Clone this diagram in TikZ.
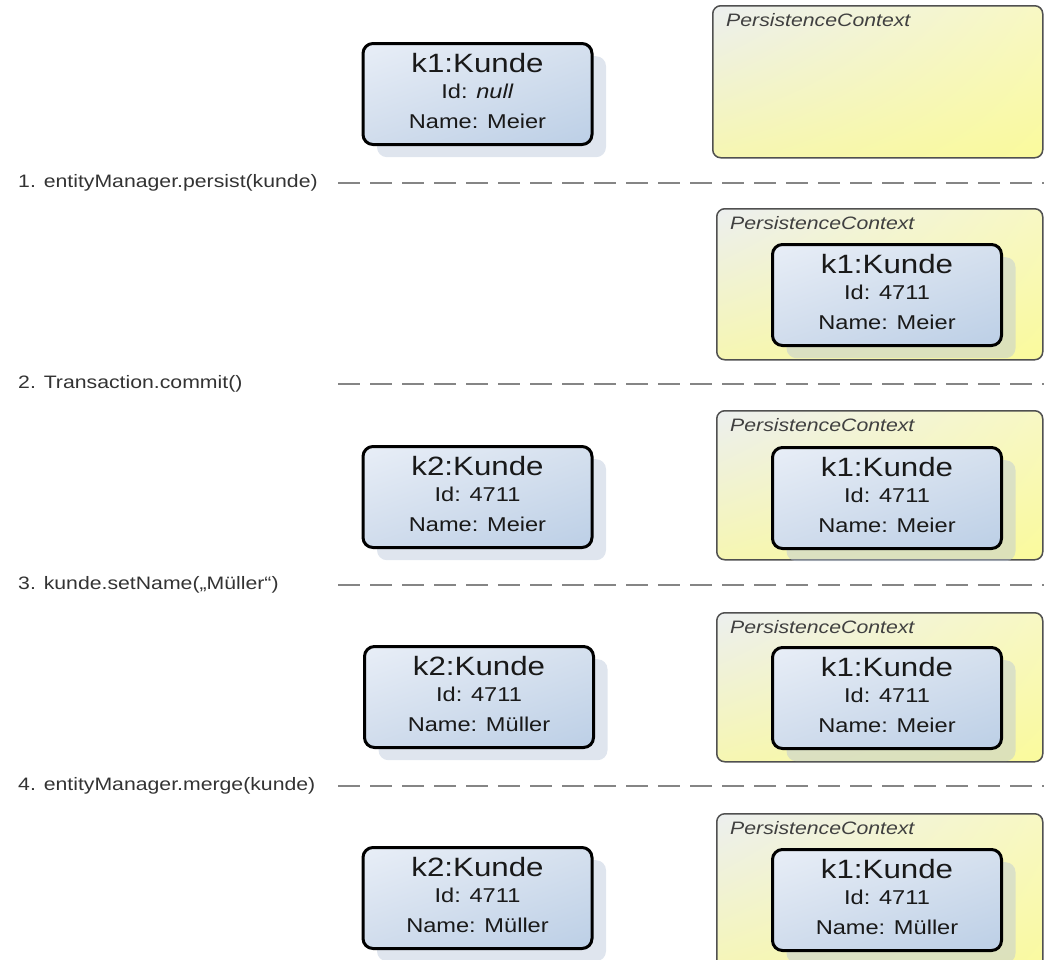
\documentclass[tikz,border=0pt]{standalone}
\usepackage{fontspec}
\setmainfont{Liberation Sans}[FakeStretch=1.18]
\usetikzlibrary{calc,shadings}
\definecolor{boxUL}{HTML}{E8EEF7}
\definecolor{boxUR}{HTML}{D5E0EE}
\definecolor{boxLL}{HTML}{D0DCEC}
\definecolor{boxLR}{HTML}{BCCFE6}
\definecolor{ctxUL}{HTML}{ECEFEF}
\definecolor{ctxUR}{HTML}{F8F8C4}
\definecolor{ctxLL}{HTML}{F6F6B2}
\definecolor{ctxLR}{HTML}{FAFA9C}
\definecolor{shadowc}{HTML}{B9C5D9}
\definecolor{ctxborder}{HTML}{505050}
\definecolor{labelc}{HTML}{333333}
\definecolor{ctxtext}{HTML}{404040}
\definecolor{dashc}{HTML}{858585}
\tikzset{
  kbox/.style={draw=black, line width=3pt, rounded corners=10pt, inner sep=0pt,
    upper left=boxUL, upper right=boxUR, lower left=boxLL, lower right=boxLR,
    minimum width=229pt, minimum height=101pt},
  kshadow/.style={fill=shadowc, fill opacity=0.45, rounded corners=10pt, inner sep=0pt,
    minimum width=229pt, minimum height=101pt},
  ktitle/.style={font=\fontsize{26.5}{30}\selectfont, text=black!90, inner sep=0pt},
  kattr/.style={font=\fontsize{20}{23}\selectfont, text=black!90, inner sep=0pt},
  ctx/.style={draw=ctxborder, line width=1.5pt, rounded corners=8pt, inner sep=0pt,
    upper left=ctxUL, upper right=ctxUR, lower left=ctxLL, lower right=ctxLR},
  ctxlabel/.style={font=\fontsize{18}{22}\selectfont\itshape, text=ctxtext, inner sep=0pt},
  steplabel/.style={font=\fontsize{18}{22}\selectfont, text=labelc, inner sep=0pt, anchor=west},
  dashline/.style={draw=dashc, line width=2pt, dash pattern=on 22pt off 10pt},
}
% #1 name, #2 centre x, #3 top, #4 title, #5 id, #6 name value
\newcommand\kundebox[6]{%
  \node[kshadow, anchor=north] (#1s) at (#2+14,#3+14) {};
  \node[kbox, anchor=north] (#1) at (#2,#3) {};
  \node[ktitle, anchor=base] (#1t) at ($(#1.north)+(0,30)$) {#4};
  \node[kattr, anchor=base] (#1i) at ($(#1.north)+(0,56)$) {Id: #5};
  \node[kattr, anchor=base] (#1n) at ($(#1.north)+(0,86)$) {Name: #6};
}
% #1 name, #2 left, #3 top, #4 bottom
\newcommand\ctxbox[4]{%
  \node[ctx, anchor=north west, minimum width=1042-#2, minimum height=#4-#3] (#1) at (#2,#3) {};
  \node[ctxlabel, anchor=base west] (#1l) at ($(#1.north west)+(14,21)$) {PersistenceContext};
}
\begin{document}
\begin{tikzpicture}[x=1pt, y=-1pt]
\useasboundingbox (0,0) rectangle (1044,959);
\clip (0,0) rectangle (1044,959);

% row 1
\ctxbox{c1}{712}{5}{157}
\kundebox{a1}{477.5}{42}{k1:Kunde}{\textit{null}}{Meier}

% step 1
\node[steplabel] (s1) at (18,183) {1. entityManager.persist(kunde)};
\coordinate (d1a) at (338,183);
\coordinate (d1b) at (1044,183);
\draw[dashline] (d1a) -- (d1b);

% row 2
\ctxbox{c2}{716}{208}{359}
\kundebox{b2}{887}{243}{k1:Kunde}{4711}{Meier}

% step 2
\node[steplabel] (s2) at (18,384) {2. Transaction.commit()};
\coordinate (d2a) at (338,384);
\coordinate (d2b) at (1044,384);
\draw[dashline] (d2a) -- (d2b);

% row 3
\ctxbox{c3}{716}{410}{559}
\kundebox{a3}{477.5}{445}{k2:Kunde}{4711}{Meier}
\kundebox{b3}{887}{446}{k1:Kunde}{4711}{Meier}

% step 3
\node[steplabel] (s3) at (18,585) {3. kunde.setName(„Müller“)};
\coordinate (d3a) at (338,585);
\coordinate (d3b) at (1044,585);
\draw[dashline] (d3a) -- (d3b);

% row 4
\ctxbox{c4}{716}{612}{761}
\kundebox{a4}{479}{645}{k2:Kunde}{4711}{Müller}
\kundebox{b4}{887}{646}{k1:Kunde}{4711}{Meier}

% step 4
\node[steplabel] (s4) at (18,786) {4. entityManager.merge(kunde)};
\coordinate (d4a) at (338,786);
\coordinate (d4b) at (1044,786);
\draw[dashline] (d4a) -- (d4b);

% row 5
\ctxbox{c5}{716}{813}{980}
\kundebox{a5}{477.5}{846}{k2:Kunde}{4711}{Müller}
\kundebox{b5}{887}{848}{k1:Kunde}{4711}{Müller}
\end{tikzpicture}
\end{document}
